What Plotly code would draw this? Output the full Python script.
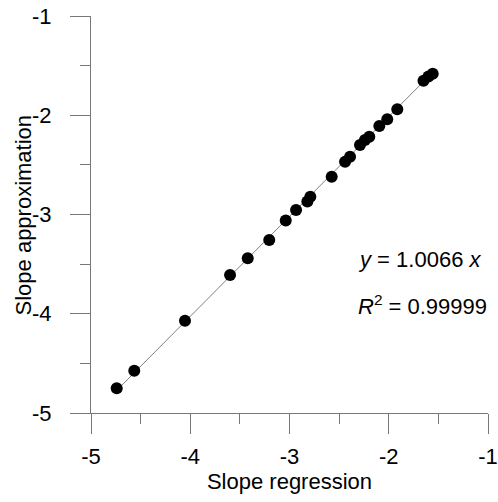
import plotly.graph_objects as go

# Data
slope_regression = [-4.741, -4.564, -4.053, -3.599, -3.421, -3.204, -3.038, -2.934,
                    -2.82, -2.79, -2.575, -2.44, -2.39, -2.29, -2.24, -2.196,
                    -2.095, -2.015, -1.914, -1.65, -1.60, -1.557]
slope_approximation = [-4.751, -4.574, -4.070, -3.610, -3.441, -3.257, -3.06, -2.955,
                       -2.87, -2.82, -2.619, -2.468, -2.417, -2.30, -2.25, -2.216,
                       -2.108, -2.04, -1.94, -1.652, -1.61, -1.583]
fit_slope = 1.0066
tick_vals = [-5, -4, -3, -2, -1]
tick_text = ["-5", "-4", "-3", "-2", "-1"]

fx = [min(slope_regression), max(slope_regression)]
fy = [fit_slope * v for v in fx]

FONT = "Liberation Sans, Arial, sans-serif"
AX = "#777777"
FS = 22

fig = go.Figure()
fig.add_trace(go.Scatter(x=fx, y=fy, mode="lines",
                         line=dict(color="#808080", width=1), hoverinfo="skip"))
fig.add_trace(go.Scatter(x=slope_regression, y=slope_approximation, mode="markers",
                         marker=dict(color="black", size=12)))

axis_common = dict(
    range=[-5, -1], tickvals=tick_vals, ticktext=tick_text,
    showgrid=False, zeroline=False, showline=True, linecolor=AX, linewidth=1,
    ticks="outside", ticklen=20, tickcolor=AX, tickwidth=1,
    minor=dict(dtick=0.5, ticks="outside", ticklen=10, tickcolor=AX, tickwidth=1, showgrid=False),
    tickfont=dict(family=FONT, size=FS, color="black"),
    automargin=False, ticklabeloverflow="allow",
)

fig.update_layout(
    width=498, height=502,
    margin=dict(l=91, r=10, t=16, b=89),
    paper_bgcolor="white", plot_bgcolor="white",
    showlegend=False,
    font=dict(family=FONT, size=FS, color="black"),
    xaxis=dict(**axis_common, ticklabelstandoff=4,
               title=dict(text="Slope regression", font=dict(family=FONT, size=FS), standoff=2)),
    yaxis=dict(**axis_common, ticklabelstandoff=14),
)

fig.add_annotation(x=-0.1688, y=0.5, xref="paper", yref="paper", xanchor="center", yanchor="middle",
                   text="Slope approximation", textangle=-90, showarrow=False,
                   font=dict(family=FONT, size=FS, color="black"))
fig.add_annotation(x=-2.33, y=-3.458, xref="x", yref="y", xanchor="left", yanchor="middle",
                   text="<i>y</i> = 1.0066 <i>x</i>", showarrow=False,
                   font=dict(family=FONT, size=FS, color="black"))
fig.add_annotation(x=-2.33, y=-3.912, xref="x", yref="y", xanchor="left", yanchor="middle",
                   text="<i>R</i><sup>2</sup> = 0.99999", showarrow=False,
                   font=dict(family=FONT, size=FS, color="black"))

fig.write_html(
    "out.html",
    config={"displayModeBar": False},
    post_script="document.body.style.margin='0';document.documentElement.style.overflow='hidden';",
)
